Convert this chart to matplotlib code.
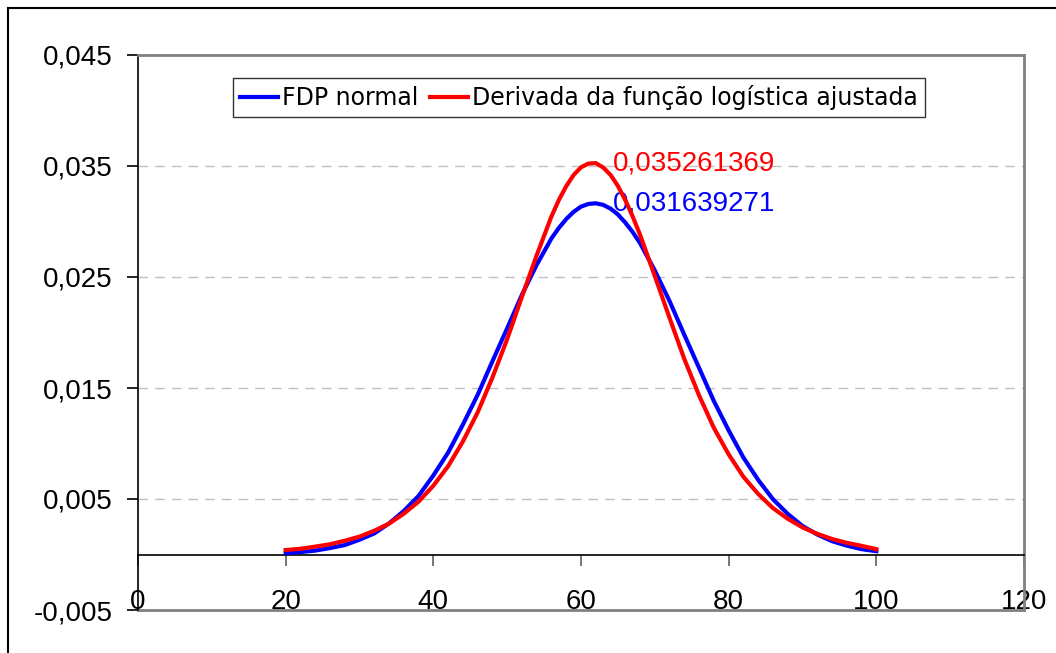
import numpy as np
import matplotlib.pyplot as plt
from matplotlib.lines import Line2D
from matplotlib.ticker import FuncFormatter

plt.rcParams['font.family'] = ['Liberation Sans', 'DejaVu Sans']

# pontos da amostra (mais densos perto do máximo)
x = [20, 22, 24, 26, 28, 30, 32, 34, 36, 38, 40, 42, 44, 46, 48, 50, 52, 54, 56,
     57, 58, 59, 60, 61, 62, 63, 64, 65, 66, 67, 68,
     70, 72, 74, 76, 78, 80, 82, 84, 86, 88, 90, 92, 94, 96, 98, 100]

fdp_normal = [0.00013, 0.00022, 0.00035, 0.00058, 0.00085, 0.00133, 0.00190, 0.00280,
              0.00392, 0.00528, 0.00712, 0.00918, 0.01170, 0.01438, 0.01740, 0.02038,
              0.02340, 0.02610, 0.02848,
              0.02942, 0.03022, 0.03087, 0.03134, 0.03158, 0.031639271, 0.03150, 0.03116,
              0.03063, 0.02990, 0.02905, 0.02805,
              0.02558, 0.02282, 0.01978, 0.01680, 0.01382, 0.01118, 0.00873,
              0.00672, 0.00498, 0.00366, 0.00257, 0.00180, 0.00120, 0.00080, 0.00048,
              0.00030]

derivada_logistica = [0.00040, 0.00052, 0.00071, 0.00092, 0.00124, 0.00161, 0.00214, 0.00278,
                      0.00368, 0.00476, 0.00620, 0.00795, 0.01018, 0.01280, 0.01594, 0.01940,
                      0.02322, 0.02696, 0.03046,
                      0.03194, 0.03318, 0.03419, 0.03488, 0.03522, 0.035261369, 0.03487, 0.03420,
                      0.03320, 0.03192, 0.03045, 0.02880,
                      0.02508, 0.02130, 0.01760, 0.01432, 0.01140, 0.00902, 0.00700,
                      0.00545, 0.00418, 0.00322, 0.00244, 0.00186, 0.00140, 0.00105, 0.00078,
                      0.00048]

y_ticks = [-0.005, 0.005, 0.015, 0.025, 0.035, 0.045]
x_ticks = [0, 20, 40, 60, 80, 100, 120]

fig = plt.figure(figsize=(10.56, 6.53), dpi=100)
ax = fig.add_axes([138/1056, 43/653, 886/1056, 555/653])

ax.plot(x, fdp_normal, color='#0000FF', lw=3, label='FDP normal', zorder=3)
ax.plot(x, derivada_logistica, color='#FF0000', lw=3,
        label='Derivada da função logística ajustada', zorder=4)

ax.set_xlim(0, 120)
ax.set_ylim(-0.005, 0.045)

ax.set_yticks(y_ticks)
ax.yaxis.set_major_formatter(FuncFormatter(lambda v, p: f'{v:.3f}'.replace('.', ',')))
ax.set_xticks(x_ticks)

# grade tracejada
for g in [0.005, 0.015, 0.025, 0.035]:
    ax.axhline(g, color='#c0c0c0', lw=1, ls=(0, (7, 5)), zorder=1)

# eixo x cruza em y = 0, rótulos embaixo
ax.spines['bottom'].set_position(('data', 0))
ax.spines['bottom'].set_color('black')
ax.spines['bottom'].set_linewidth(1.2)
ax.spines['left'].set_color('black')
ax.spines['left'].set_linewidth(1.2)
for s in ['top', 'right']:
    ax.spines[s].set_color('#808080')
    ax.spines[s].set_linewidth(2)
ax.plot([0, 1], [0, 0], transform=ax.transAxes, color='#808080', lw=2, clip_on=False)

ax.tick_params(axis='x', direction='out', length=8, width=1.2, color='#606060',
               pad=17, labelsize=20)
ax.tick_params(axis='y', direction='out', length=8, width=1.2, color='black',
               pad=10, labelsize=20)

# rótulos de máximo
ax.annotate('0,035261369', xy=(62, 0.035261369), xytext=(12, 0), textcoords='offset points',
            color='#FF0000', fontsize=20, va='center', ha='left')
ax.annotate('0,031639271', xy=(62, 0.031639271), xytext=(12, 0), textcoords='offset points',
            color='#0000FF', fontsize=20, va='center', ha='left')

leg = ax.legend(loc='upper center', bbox_to_anchor=(0.4977, 0.9586), ncol=2,
                prop={'family': 'DejaVu Sans', 'size': 17},
                frameon=True, fancybox=False, handlelength=1.6, handletextpad=0.17,
                columnspacing=0.5, borderpad=0.3, borderaxespad=0)
leg.get_frame().set_edgecolor('black')
leg.get_frame().set_linewidth(1)

# moldura externa do gráfico
fig.add_artist(Line2D([8/1056, 1], [1 - 8/653, 1 - 8/653], color='black', lw=1.5))
fig.add_artist(Line2D([8/1056, 8/1056], [0, 1 - 8/653], color='black', lw=1.5))

fig.savefig('out.png', dpi=100)
